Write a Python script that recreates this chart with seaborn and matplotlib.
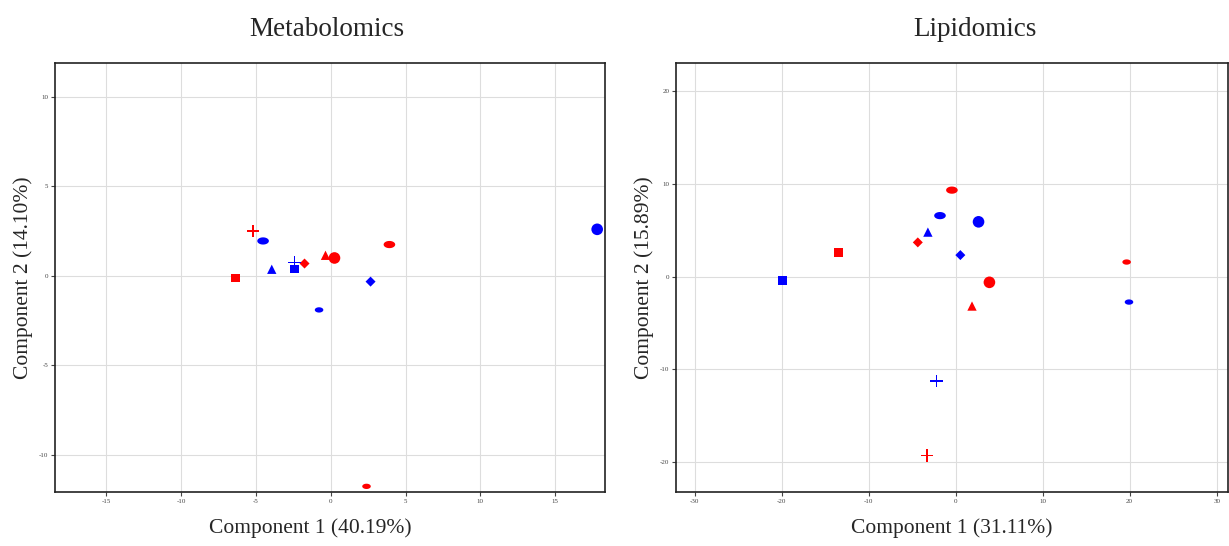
import numpy as np
import pandas as pd
import matplotlib
matplotlib.use("Agg")
import matplotlib.pyplot as plt
from matplotlib.path import Path
import seaborn as sns

# ---- data ----
groups = ["A"] * 7 + ["B"] * 7
shapes = ["plus", "diamond", "triangle", "circle", "ellipse", "square", "small",
          "ellipse", "triangle", "plus", "square", "diamond", "small", "circle"]

met_x = [-5.18, -1.75, -0.35, 0.25, 3.92, -6.37, 2.39,
         -4.52, -3.94, -2.41, -2.41, 2.66, -0.78, 17.8]
met_y = [2.50, 0.69, 1.15, 1.00, 1.75, -0.11, -11.75,
         1.95, 0.37, 0.74, 0.39, -0.32, -1.90, 2.60]

lip_shapes = ["plus", "diamond", "triangle", "circle", "ellipse", "square", "small",
              "ellipse", "triangle", "plus", "square", "diamond", "small", "circle"]
lip_x = [-3.30, -4.35, 1.88, 3.88, -0.43, -13.45, 19.65,
         -1.80, -3.19, -2.20, -19.90, 0.54, 19.92, 2.63]
lip_y = [-19.27, 3.71, -3.16, -0.60, 9.35, 2.59, 1.59,
         6.60, 4.82, -11.25, -0.43, 2.34, -2.73, 5.93]

met_ticks_x = [-15, -10, -5, 0, 5, 10, 15]
met_ticks_y = [-10, -5, 0, 5, 10]
lip_ticks_x = [-30, -20, -10, 0, 10, 20, 30]
lip_ticks_y = [-20, -10, 0, 10, 20]

# ---- custom markers ----
t = np.linspace(0, 2 * np.pi, 40)
ellipse = Path(np.column_stack([np.cos(t), 0.62 * np.sin(t)]), closed=True)
w = 0.13
cross_v = [(-w, 1), (w, 1), (w, w), (1, w), (1, -w), (w, -w), (w, -1), (-w, -1),
           (-w, -w), (-1, -w), (-1, w), (-w, w), (-w, 1)]
cross = Path(cross_v, closed=True)

markers = {"plus": cross, "diamond": "D", "triangle": "^", "circle": "o",
           "ellipse": ellipse, "square": "s", "small": ellipse}
sizes = {"plus": 80, "diamond": 26, "triangle": 45, "circle": 70,
         "ellipse": 70, "square": 38, "small": 38}
palette = {"A": "#ff0000", "B": "#0000ff"}

sns.set_theme(style="white")
plt.rcParams["font.family"] = ["Liberation Serif", "DejaVu Serif"]
plt.rcParams["axes.unicode_minus"] = False

fig = plt.figure(figsize=(12.29, 5.46), dpi=100)
ax1 = fig.add_axes([0.0450, 0.0994, 0.4470, 0.7857])
ax2 = fig.add_axes([0.5503, 0.0994, 0.4489, 0.7857])

df1 = pd.DataFrame({"x": met_x, "y": met_y, "group": groups, "shape": shapes})
df2 = pd.DataFrame({"x": lip_x, "y": lip_y, "group": groups, "shape": lip_shapes})

for ax, df, title, tx, xl, lx, yl, xt, yt, xlim, ylim in [
    (ax1, df1, "Metabolomics", 0.495, "Component 1 (40.19%)", 0.465, "Component 2 (14.10%)",
     met_ticks_x, met_ticks_y, (-18.4, 18.3), (-12.05, 11.9)),
    (ax2, df2, "Lipidomics", 0.542, "Component 1 (31.11%)", 0.5, "Component 2 (15.89%)",
     lip_ticks_x, lip_ticks_y, (-32.1, 31.3), (-23.2, 23.1)),
]:
    sns.scatterplot(data=df, x="x", y="y", hue="group", style="shape", size="shape",
                    markers=markers, sizes=sizes, palette=palette, linewidth=0,
                    legend=False, ax=ax, zorder=3)
    ax.set_xlim(*xlim)
    ax.set_ylim(*ylim)
    ax.set_xticks(xt)
    ax.set_yticks(yt)
    ax.grid(True, color="#dddddd", linewidth=0.8)
    ax.set_axisbelow(True)
    ax.tick_params(axis="both", labelsize=5, colors="#444444", length=3, width=0.8,
                   direction="out", left=True, bottom=True, pad=2)
    for s in ax.spines.values():
        s.set_color("#222222")
        s.set_linewidth(1.2)
    ax.set_title(title, fontsize=19.5, pad=19, x=tx)
    ax.set_xlabel(xl, fontsize=15.5)
    ax.xaxis.set_label_coords(lx, -0.062)
    ax.set_ylabel(yl, fontsize=15.5, labelpad=4)

fig.savefig("out.png", dpi=100)
